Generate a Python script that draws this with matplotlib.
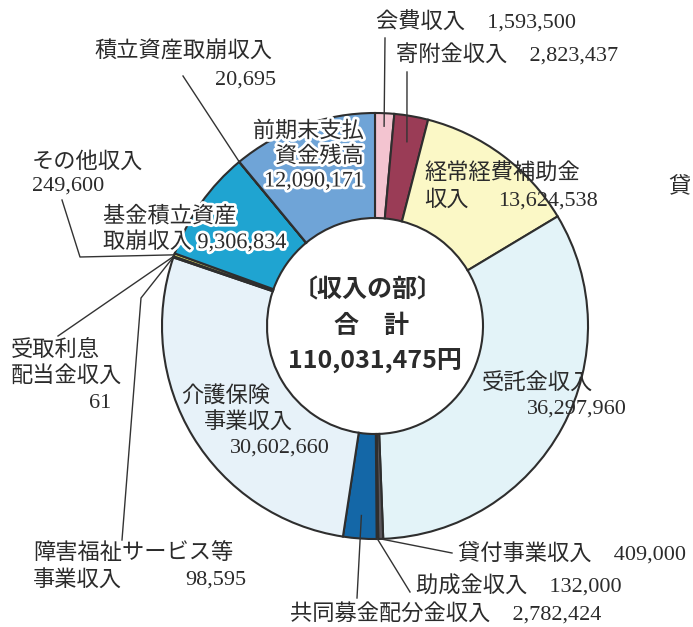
import matplotlib
matplotlib.use('Agg')
import matplotlib.pyplot as plt
import matplotlib.patheffects as pe
import numpy as np

plt.rcParams['font.family'] = ['Liberation Serif', 'Noto Sans CJK JP', 'DejaVu Sans']

# 収入の部 (clockwise from 12 o'clock)
names = ['会費収入', '寄附金収入', '経常経費補助金収入', '受託金収入', '貸付事業収入',
         '助成金収入', '共同募金配分金収入', '介護保険事業収入', '障害福祉サービス等事業収入',
         '受取利息配当金収入', 'その他収入', '基金積立資産取崩収入', '積立資産取崩収入',
         '前期末支払資金残高']
values = [1593500, 2823437, 13624538, 36297960, 409000, 132000, 2782424, 30602660,
          98595, 61, 249600, 9306834, 20695, 12090171]
colors = ['#f3c4d0', '#9a3c56', '#fbf8c6', '#e3f3f8', '#5b585d', '#7b7b7b', '#1467a7',
          '#e7f2f9', '#a3cbe2', '#cccccc', '#e3dc66', '#1fa4d1', '#3a3a3a', '#6fa4d7']
total = sum(values)

W, H = 693, 627
cx, cy = 375, H - 326
R, r_in = 213, 108
ink = '#2b2b2b'

fig = plt.figure(figsize=(W / 100, H / 100), dpi=100)
ax = fig.add_axes([0, 0, 1, 1])

ax.pie(values, colors=colors, startangle=90, counterclock=False,
       center=(cx, cy), radius=R,
       wedgeprops=dict(width=R - r_in, edgecolor='#2e2e2e', linewidth=1.5))
ax.set_xlim(0, W)
ax.set_ylim(0, H)
ax.set_aspect('equal')
ax.axis('off')

# slice angles (degrees, counter-clockwise from +x)
cum = np.cumsum([0] + values) / total * 360
starts = 90 - cum[:-1]
ends = 90 - cum[1:]


def ring_pt(i, r=R):
    a = np.radians((starts[i] + ends[i]) / 2)
    return cx + r * np.cos(a), cy + r * np.sin(a)


def T(x, y, s, **kw):
    kw.setdefault('fontsize', 16)
    kw.setdefault('color', ink)
    kw.setdefault('va', 'center')
    ax.text(x, H - y, s, **kw)


def leader(i, pts, r=R):
    px, py = ring_pt(i, r)
    xs = [p[0] for p in pts] + [px]
    ys = [H - p[1] for p in pts] + [py]
    ax.plot(xs, ys, color='#333333', lw=1.0)


def fmt(i):
    return f'{values[i]:,}'


halo = [pe.withStroke(linewidth=4, foreground='white')]

# outer labels
T(376, 22, f'会費収入　{fmt(0)}', ha='left')
leader(0, [(385, 38)], r=200)
T(396, 55, f'寄附金収入　{fmt(1)}', ha='left')
leader(1, [(407, 72)], r=187)

T(272, 52, '積立資産取崩収入', ha='right')
T(276, 80, fmt(12), ha='right')
leader(12, [(183, 76)])

T(32, 162, 'その他収入', ha='left')
T(32, 186, fmt(10), ha='left')
leader(10, [(62, 200), (80, 257)])

T(11, 350, '受取利息', ha='left')
T(11, 376, '配当金収入', ha='left')
T(111, 404, fmt(9), ha='right')
leader(9, [(58, 336)])

T(33, 554, '障害福祉サービス等', ha='left')
T(33, 580, '事業収入', ha='left')
T(246, 580, fmt(8), ha='right')
leader(8, [(122, 540), (141, 298)])

T(458, 554, f'貸付事業収入　{fmt(4)}', ha='left')
leader(4, [(452, 553)])
T(416, 586, f'助成金収入　{fmt(5)}', ha='left')
leader(5, [(410, 592)])
T(290, 614, f'共同募金配分金収入　{fmt(6)}', ha='left')
leader(6, [(357, 598)], r=190)

# fragment of the neighbouring chart
T(668, 188, '貸', ha='left')

# labels inside the ring
T(364, 132, '前期末支払', ha='right', path_effects=halo)
T(364, 157, '資金残高', ha='right', path_effects=halo)
T(364, 182, fmt(13), ha='right', path_effects=halo)

T(103, 217, '基金積立資産', ha='left', path_effects=halo)
T(103, 242, f'取崩収入 {fmt(11)}', ha='left', path_effects=halo)

T(424, 174, '経常経費補助金', ha='left')
T(424, 201, '収入', ha='left')
T(598, 201, fmt(2), ha='right')

T(482, 383, '受託金収入', ha='left')
T(627, 409, fmt(3), ha='right')

T(181, 396, '介護保険', ha='left')
T(204, 422, '事業収入', ha='left')
T(330, 448, fmt(7), ha='right')

# centre
cf = dict(family=['Noto Sans CJK JP'], fontweight='bold', fontsize=18, ha='center')
T(368, 290, '〔収入の部〕', **cf)
T(372, 326, '合　計', **cf)
T(375, 361, f'{total:,}円', **cf)

fig.savefig('out.png', dpi=100, facecolor='white')
